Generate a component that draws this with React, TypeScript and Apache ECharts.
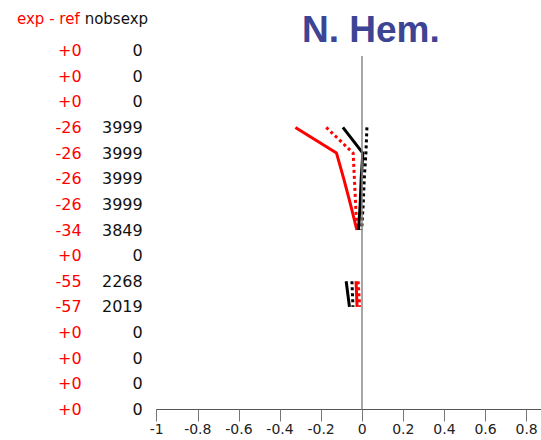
import React, { useEffect, useRef } from "react";
import * as echarts from "echarts";

// Row labels, top to bottom
const diffLabels = ["+0", "+0", "+0", "-26", "-26", "-26", "-26", "-34", "+0", "-55", "-57", "+0", "+0", "+0", "+0"];
const nobsLabels = ["0", "0", "0", "3999", "3999", "3999", "3999", "3849", "0", "2268", "2019", "0", "0", "0", "0"];

// Series values per row (null = no data)
const redSolid = [null, null, null, -0.325, -0.125, -0.09, -0.057, -0.026, null, -0.03, -0.025, null, null, null, null];
const redDotted = [null, null, null, -0.175, -0.044, -0.038, -0.032, -0.026, null, -0.02, -0.012, null, null, null, null];
const blackSolid = [null, null, null, -0.094, 0.003, -0.005, -0.01, -0.018, null, -0.078, -0.062, null, null, null, null];
const blackDotted = [null, null, null, 0.023, 0.018, 0.01, 0.005, -0.003, null, -0.05, -0.045, null, null, null, null];

const xTicksMin = -1;
const xMax = 0.87;

const toData = (vals: (number | null)[]) => vals.map((v, i) => [v == null ? null : v, i]);

export default function App() {
  const ref = useRef<HTMLDivElement>(null);
  useEffect(() => {
    if (!ref.current) return;
    const chart = echarts.init(ref.current, undefined, { renderer: "svg" });
    const font = "DejaVu Sans";
    chart.setOption({
      animation: false,
      backgroundColor: "#ffffff",
      title: [
        {
          text: "N. Hem.",
          left: 297,
          top: 6,
          textStyle: { fontFamily: "Liberation Sans", fontWeight: "bold", fontSize: 37, color: "#3d4494" },
        },
        {
          text: "{r|exp - ref} {b|nobsexp}",
          left: 12,
          top: 5,
          textStyle: {
            fontWeight: "normal",
            rich: {
              r: { color: "#ff0000", fontFamily: font, fontSize: 15, fontWeight: "normal" },
              b: { color: "#111111", fontFamily: font, fontSize: 15, fontWeight: "normal" },
            },
          },
        },
      ],
      grid: { left: 156.7, right: 0, top: 50.5, bottom: 30.5, containLabel: false },
      xAxis: {
        type: "value",
        min: xTicksMin,
        max: xMax,
        interval: 0.2,
        axisLine: { show: true, onZero: false, lineStyle: { color: "#555555", width: 1 } },
        axisTick: { show: true, length: 12, lineStyle: { color: "#777777", width: 1 } },
        axisLabel: {
          showMaxLabel: false,
          margin: 12,
          fontFamily: font,
          fontSize: 14,
          color: "#222222",
        },
        splitLine: { show: false },
      },
      yAxis: {
        type: "value",
        min: 0,
        max: 14,
        interval: 1,
        inverse: true,
        axisLine: { show: false },
        axisTick: { show: false },
        splitLine: { show: false },
        axisLabel: {
          margin: 14,
          formatter: (v: number) => `{r|${diffLabels[v] ?? ""}}{n|${nobsLabels[v] ?? ""}}`,
          rich: {
            r: { color: "#ff0000", fontFamily: font, fontSize: 16, width: 30, align: "right" },
            n: { color: "#111111", fontFamily: font, fontSize: 16, width: 61, align: "right" },
          },
        },
      },
      series: [
        {
          type: "line",
          data: [],
          silent: true,
          markLine: {
            silent: true,
            symbol: "none",
            label: { show: false },
            lineStyle: { color: "#888888", width: 1.5, type: "solid" },
            data: [[{ coord: [0, 0.21] }, { coord: [0, 14] }]],
          },
        },
        {
          type: "line",
          data: toData(redSolid),
          symbol: "none",
          connectNulls: false,
          lineStyle: { color: "#ff0000", width: 3 },
        },
        {
          type: "line",
          data: toData(redDotted),
          symbol: "none",
          connectNulls: false,
          lineStyle: { color: "#ff0000", width: 3, type: [3, 3] },
        },
        {
          type: "line",
          data: toData(blackSolid),
          symbol: "none",
          connectNulls: false,
          lineStyle: { color: "#000000", width: 3 },
        },
        {
          type: "line",
          data: toData(blackDotted),
          symbol: "none",
          connectNulls: false,
          lineStyle: { color: "#000000", width: 3, type: [3, 3] },
        },
      ],
    });
    return () => chart.dispose();
  }, []);
  return <div ref={ref} style={{ position: "absolute", left: 0, top: 0, width: 541, height: 440 }} />;
}
